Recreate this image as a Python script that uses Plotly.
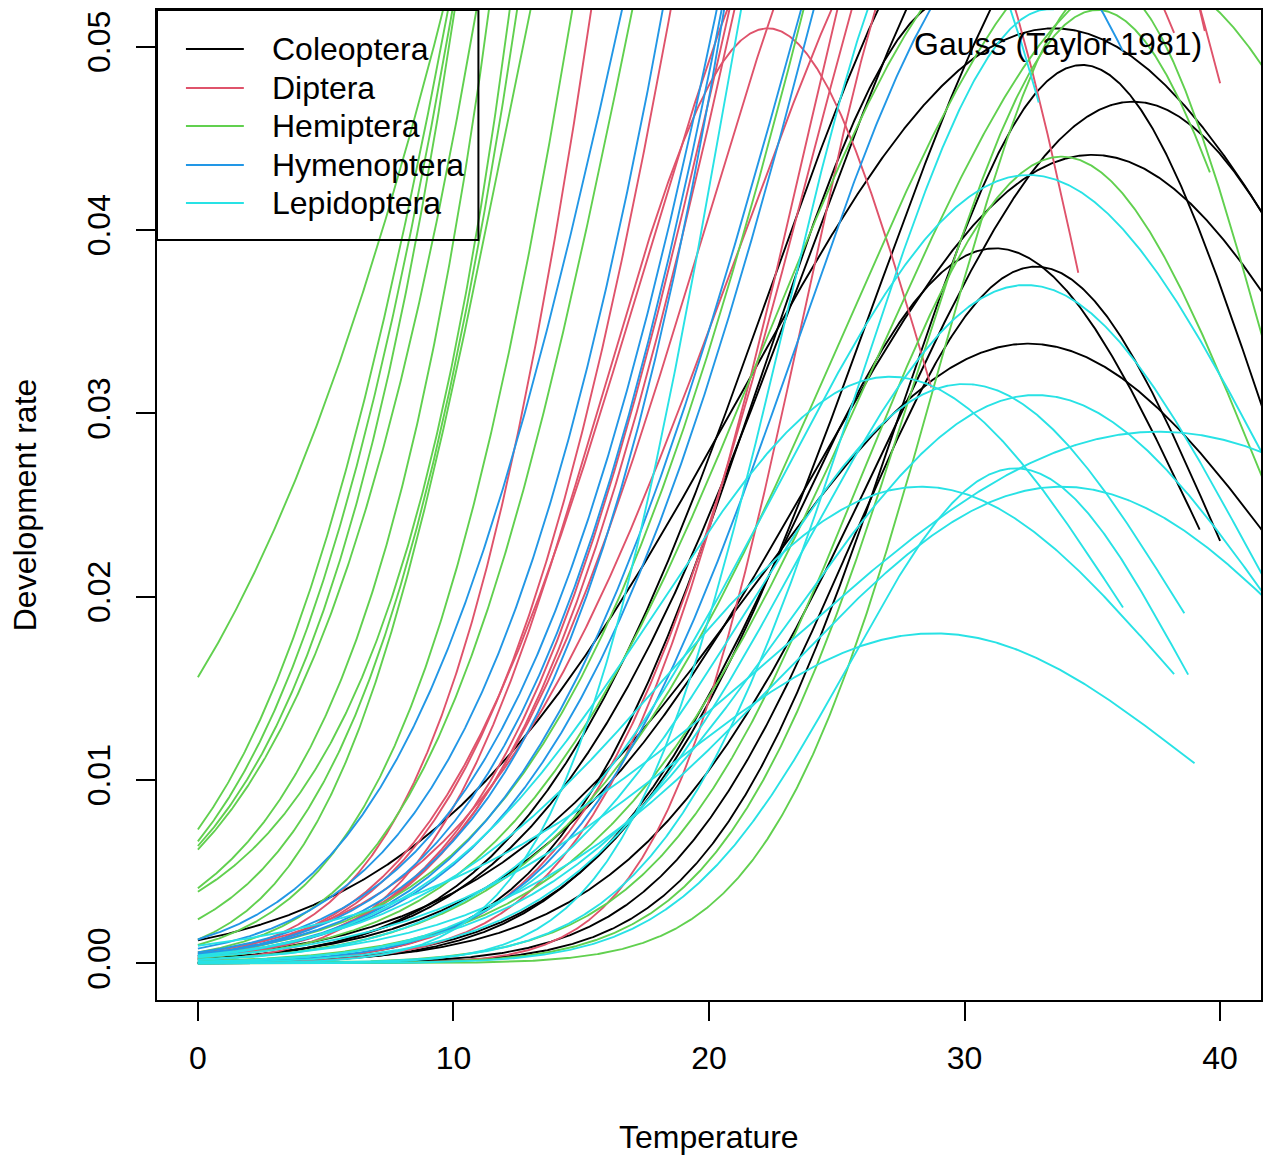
import numpy as np
import plotly.graph_objects as go

# ---------------- data ----------------
ORDERS = ["Coleoptera", "Diptera", "Hemiptera", "Hymenoptera", "Lepidoptera"]
COLORS = ["#000000", "#DF536B", "#61D04F", "#2297E6", "#28E2E5"]

# Gauss (Taylor 1981): r(T) = rm * exp(-0.5 * ((T - Topt) / Troh)^2)
# curves whose optimum is visible: parameters rm, Topt, Troh, last temperature
COL_RM   = [0.051, 0.049, 0.047, 0.0441, 0.039, 0.038, 0.0338]
COL_TOPT = [33.5, 34.6, 36.6, 35.0, 31.2, 32.8, 32.5]
COL_TROH = [12.3, 7.2, 9.6, 10.9, 8.0, 7.2, 10.8]
COL_TEND = [42.0, 42.0, 42.0, 42.0, 39.2, 40.0, 42.0]

DIP_RM   = [0.051, 0.0638, 0.0788, 0.073, 0.0589]
DIP_TOPT = [22.3, 31.3, 32.1, 32.4, 29.25]
DIP_TROH = [6.5, 10.2, 7.8, 8.3, 5.5]
DIP_TEND = [28.7, 38.2, 39.4, 40.0, 34.45]

HEM_RM   = [0.052, 0.054, 0.044, 0.0535]
HEM_TOPT = [35.2, 37.0, 33.8, 35.5]
HEM_TROH = [7.2, 10.5, 7.8, 6.5]
HEM_TEND = [39.6, 42.0, 42.0, 42.0]

HYM_RM   = [0.0562]
HYM_TOPT = [32.0]
HYM_TROH = [8.5]
HYM_TEND = [36.2]

LEP_RM   = [0.043, 0.037, 0.032, 0.0316, 0.031, 0.029, 0.027, 0.026, 0.026, 0.018, 0.058]
LEP_TOPT = [32.5, 32.4, 27.1, 30.0, 32.8, 37.6, 32.0, 28.3, 33.8, 28.8, 29.0]
LEP_TROH = [9.8, 8.76, 9.1, 8.57, 9.6, 14.4, 6.5, 9.9, 10.9, 10.2, 6.0]
LEP_TEND = [42.0, 42.0, 36.2, 38.6, 42.0, 42.0, 38.75, 38.2, 42.0, 39.0, 32.9]

# curves that leave the top of the plot: three read points (temperature, rate) each
COL_PT_T = [[14.8, 17.8, 26.6], [12.0, 18.6, 27.7], [13.0, 19.0, 28.4], [15.0, 22.0, 31.0]]
COL_PT_R = [[0.0118, 0.02, 0.052], [0.006, 0.02, 0.052], [0.005, 0.02, 0.052], [0.005, 0.02, 0.052]]
COL_PT_TEND = [27.2, 28.3, 29.0, 31.6]

DIP_PT_T = [[8.4, 11.0, 15.4], [0, 13.2, 18.5], [0, 13.35, 20.7], [0, 14.7, 20.8],
            [0, 14.9, 21.0], [0, 15.1, 22.5]]
DIP_PT_R = [[0.0097, 0.02, 0.052], [0.0004, 0.02, 0.052], [0.0004, 0.02, 0.052],
            [0.0003, 0.02, 0.052], [0.0003, 0.02, 0.052], [0.0003, 0.02, 0.052]]
DIP_PT_TEND = [16.0, 19.1, 21.3, 21.4, 21.6, 23.1]

HEM_PT_T = [[0, 1.75, 9.6], [0, 4.3, 9.8], [0, 4.7, 9.96], [0, 5.1, 10.05], [0, 5.45, 10.9],
            [0, 6.77, 11.4], [0, 7.6, 12.2], [0, 7.8, 12.5], [0, 7.97, 13.0], [0, 9.8, 14.65],
            [8.4, 11.5, 17.0], [0, 16.5, 23.7], [0, 17.9, 28.3], [0, 20.5, 31.6]]
HEM_PT_R = [[0.0156, 0.02, 0.052], [0.0073, 0.02, 0.052], [0.00665, 0.02, 0.052],
            [0.0064, 0.02, 0.052], [0.0062, 0.02, 0.052], [0.0041, 0.02, 0.052],
            [0.0039, 0.02, 0.052], [0.0024, 0.02, 0.052], [0.0013, 0.02, 0.052],
            [0.001, 0.02, 0.052], [0.0095, 0.02, 0.052], [0.0005, 0.02, 0.052],
            [0.0003, 0.02, 0.052], [0.0002, 0.02, 0.052]]
HEM_PT_TEND = [10.2, 10.4, 10.6, 10.7, 11.5, 12.0, 12.8, 13.1, 13.6, 15.2, 17.6, 24.3, 28.9, 32.2]

HYM_PT_T = [[0, 10.55, 16.6], [0, 12.6, 18.2], [0, 14.2, 20.3], [0, 14.6, 20.5],
            [0, 15.2, 20.6], [0, 16.3, 23.6], [0, 16.9, 24.1]]
HYM_PT_R = [[0.0013, 0.02, 0.052], [0.0008, 0.02, 0.052], [0.0006, 0.02, 0.052],
            [0.0005, 0.02, 0.052], [0.0005, 0.02, 0.052], [0.0004, 0.02, 0.052],
            [0.0004, 0.02, 0.052]]
HYM_PT_TEND = [17.2, 18.8, 20.9, 21.1, 21.2, 24.2, 24.7]

LEP_PT_T = [[16.7, 19.5, 21.25], [23.0, 27.5, 33.0]]
LEP_PT_R = [[0.02, 0.0384, 0.052], [0.02, 0.0384, 0.052]]
LEP_PT_TEND = [21.8, 33.5]

X_TICKS = [0, 10, 20, 30, 40]
Y_TICKS = [0.00, 0.01, 0.02, 0.03, 0.04, 0.05]

PEAKED = [
    (COL_RM, COL_TOPT, COL_TROH, COL_TEND),
    (DIP_RM, DIP_TOPT, DIP_TROH, DIP_TEND),
    (HEM_RM, HEM_TOPT, HEM_TROH, HEM_TEND),
    (HYM_RM, HYM_TOPT, HYM_TROH, HYM_TEND),
    (LEP_RM, LEP_TOPT, LEP_TROH, LEP_TEND),
]
RISING = [
    (COL_PT_T, COL_PT_R, COL_PT_TEND),
    (DIP_PT_T, DIP_PT_R, DIP_PT_TEND),
    (HEM_PT_T, HEM_PT_R, HEM_PT_TEND),
    (HYM_PT_T, HYM_PT_R, HYM_PT_TEND),
    (LEP_PT_T, LEP_PT_R, LEP_PT_TEND),
]


def gauss_params(ts, rs):
    """Gaussian (log-quadratic) through three read points."""
    c, b, a = np.polyfit(np.asarray(ts, float), np.log(rs), 2)
    troh = np.sqrt(-1.0 / (2.0 * c))
    topt = -b / (2.0 * c)
    rm = np.exp(a - b * b / (4.0 * c))
    return rm, topt, troh


def gauss(t, rm, topt, troh):
    return rm * np.exp(-0.5 * ((t - topt) / troh) ** 2)


FONT = "Liberation Sans, Arial, Helvetica, sans-serif"
FS = 32
fig = go.Figure()

for k, name in enumerate(ORDERS):
    curves = []
    rm_l, to_l, tr_l, te_l = PEAKED[k]
    for rm, to, tr, te in zip(rm_l, to_l, tr_l, te_l):
        curves.append((rm, to, tr, te))
    pt_t, pt_r, pt_te = RISING[k]
    for ts, rs, te in zip(pt_t, pt_r, pt_te):
        rm, to, tr = gauss_params(ts, rs)
        curves.append((rm, to, tr, te))
    for rm, to, tr, te in curves:
        t = np.linspace(0, te, int(te / 0.04) + 2)
        fig.add_trace(go.Scatter(
            x=t, y=gauss(t, rm, to, tr), mode="lines",
            line=dict(color=COLORS[k], width=1.9),
            showlegend=False, hoverinfo="skip"))

# pixel geometry of the reference plot region
L, R, T, B = 157, 1263, 10, 1000


def px(xp):
    return (xp - L) / (R - L)


def py(yp):
    return (B - yp) / (B - T)


shapes = []
annotations = []
# legend box (manual, like R's legend)
shapes.append(dict(type="rect", xref="paper", yref="paper",
                   x0=px(157), x1=px(479), y0=py(240), y1=py(10),
                   line=dict(color="black", width=2), fillcolor="rgba(0,0,0,0)"))
rows = [49, 88, 126, 165, 203]
for k, name in enumerate(ORDERS):
    shapes.append(dict(type="line", xref="paper", yref="paper",
                       x0=px(186), x1=px(244), y0=py(rows[k]), y1=py(rows[k]),
                       line=dict(color=COLORS[k], width=2)))
    annotations.append(dict(text=name, xref="paper", yref="paper",
                            x=px(270), y=py(rows[k]), xanchor="left", yanchor="middle",
                            showarrow=False, font=dict(size=FS, color="black", family=FONT)))

annotations.append(dict(text="Gauss (Taylor 1981)", xref="paper", yref="paper",
                        x=px(1060), y=py(44), xanchor="center", yanchor="middle",
                        showarrow=False, font=dict(size=FS, color="black", family=FONT)))
annotations.append(dict(text="Temperature", xref="paper", yref="paper",
                        x=px(710), y=py(1137), xanchor="center", yanchor="middle",
                        showarrow=False, font=dict(size=FS, color="black", family=FONT)))
annotations.append(dict(text="Development rate", xref="paper", yref="paper",
                        x=px(25), y=py(505), xanchor="center", yanchor="middle",
                        textangle=-90, showarrow=False,
                        font=dict(size=FS, color="black", family=FONT)))

fig.update_layout(
    width=1263, height=1156,
    margin=dict(l=157, r=0, t=10, b=156, pad=0),
    paper_bgcolor="white", plot_bgcolor="white",
    showlegend=False,
    font=dict(family=FONT, size=FS, color="black"),
    shapes=shapes, annotations=annotations,
)
fig.update_xaxes(range=[-1.6, 41.6], tickvals=X_TICKS, ticktext=[str(v) for v in X_TICKS],
                 showgrid=False, zeroline=False, showline=True, mirror=True,
                 linecolor="black", linewidth=2, ticks="outside", ticklen=19,
                 tickwidth=2, tickcolor="black", ticklabelstandoff=10,
                 tickfont=dict(size=FS, family=FONT))
fig.update_yaxes(range=[-0.002, 0.052], tickvals=Y_TICKS,
                 ticktext=["%.2f" % v for v in Y_TICKS],
                 showgrid=False, zeroline=False, showline=True, mirror=True,
                 linecolor="black", linewidth=2, ticks="outside", ticklen=19,
                 tickwidth=2, tickcolor="black", tickangle=-90, ticklabelstandoff=13,
                 tickfont=dict(size=FS, family=FONT))

fig.write_html("out.html", config={"displayModeBar": False},
               post_script="document.body.style.margin='0';")
